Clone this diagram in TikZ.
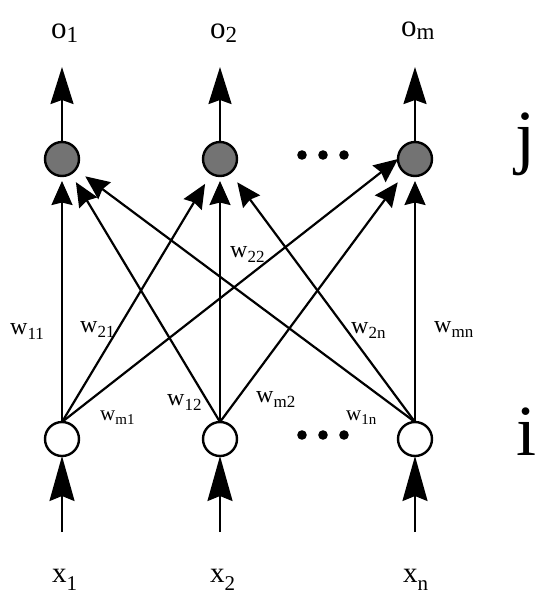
\documentclass[tikz,border=0pt]{standalone}
\usepackage{fontspec}
\setmainfont{Liberation Serif}
\usetikzlibrary{arrows.meta}
% \lowsub{size}{drop}{text}: a lowered subscript set in its own size
\newcommand\lowsub[3]{\raisebox{-#2}{\fontsize{#1}{#1}\selectfont #3}}

\begin{document}
\begin{tikzpicture}[x=1pt,y=-1pt,
  unit/.style={circle,draw,line width=2.4pt,minimum size=34pt,inner sep=0pt,outer sep=0pt},
  hidden/.style={unit,fill=black!55},
  inputunit/.style={unit,fill=white},
  wire/.style={line width=2.2pt},
  weight/.style={wire,-{Stealth[length=24pt,width=21pt,inset=2.5pt]}},
  outarrow/.style={wire,-{Stealth[length=37pt,width=23pt,inset=4pt]}},
  inarrow/.style={wire,-{Stealth[length=45pt,width=25pt,inset=5pt]}},
  wlab/.style={anchor=base west,inner sep=0pt,font=\fontsize{24}{24}\selectfont},
  wlabsmall/.style={anchor=base west,inner sep=0pt,font=\fontsize{21}{21}\selectfont},
  iolab/.style={anchor=base west,inner sep=0pt,font=\fontsize{31}{31}\selectfont},
  layerlab/.style={anchor=base,inner sep=0pt,font=\fontsize{72}{72}\selectfont},
]
\useasboundingbox (0,0) rectangle (538,595);

% output layer j
\node[hidden] (t1) at (62,159) {};
\node[hidden] (t2) at (220,159) {};
\node[hidden] (t3) at (415,159) {};

% input layer i
\node[inputunit] (b1) at (62,439) {};
\node[inputunit] (b2) at (220,439) {};
\node[inputunit] (b3) at (415,439) {};

% ellipses between the units
\foreach \dx in {302,323,344} {
  \fill (\dx,155) circle (4.8pt);
  \fill (\dx,435) circle (4.8pt);
}

% outputs
\coordinate (o1tip) at (62,67);
\coordinate (o2tip) at (220,67);
\coordinate (omtip) at (415,67);
\draw[outarrow] (t1) -- (o1tip);
\draw[outarrow] (t2) -- (o2tip);
\draw[outarrow] (t3) -- (omtip);
\node[iolab] (o1) at (51,38) {o\lowsub{23pt}{4pt}{1}};
\node[iolab] (o2) at (210,38) {o\lowsub{23pt}{4pt}{2}};
\node[iolab] (om) at (401,36) {o\lowsub{23pt}{3pt}{m}};

% inputs
\coordinate (x1foot) at (62,532);
\coordinate (x2foot) at (220,532);
\coordinate (xnfoot) at (415,532);
\draw[inarrow] (x1foot) -- (b1);
\draw[inarrow] (x2foot) -- (b2);
\draw[inarrow] (xnfoot) -- (b3);
\node[iolab,font=\fontsize{29}{29}\selectfont] (x1) at (52,582) {x\lowsub{21pt}{8pt}{1}};
\node[iolab,font=\fontsize{29}{29}\selectfont] (x2) at (210,582) {x\lowsub{21pt}{8pt}{2}};
\node[iolab,font=\fontsize{29}{29}\selectfont] (xn) at (403,582) {x\lowsub{21pt}{8pt}{n}};

% weighted connections
\draw[weight,shorten >=5pt] (b1.north) -- (t1);
\draw[weight,shorten >=12pt] (b1.north) -- (t2);
\draw[weight] (b1.north) -- (t3.west);
\draw[weight,shorten >=10pt] (b2.north) -- (t1);
\draw[weight,shorten >=5pt] (b2.north) -- (t2);
\draw[weight,shorten >=12pt] (b2.north) -- (t3);
\draw[weight,shorten >=12pt] (b3.north) -- (t1);
\draw[weight,shorten >=12pt] (b3.north) -- (t2);
\draw[weight,shorten >=5pt] (b3.north) -- (t3);

% weight labels
\node[wlab] (w11) at (10,334) {w\lowsub{17pt}{5pt}{11}};
\node[wlab] (w21) at (80,332) {w\lowsub{17pt}{5pt}{21}};
\node[wlab] (w22) at (230,257) {w\lowsub{17pt}{5pt}{22}};
\node[wlab] (w2n) at (351,333) {w\lowsub{17pt}{5pt}{2n}};
\node[wlab] (wmn) at (434,332) {w\lowsub{17pt}{5pt}{mn}};
\node[wlab] (w12) at (167,405) {w\lowsub{17pt}{5pt}{12}};
\node[wlab] (wm2) at (256,402) {w\lowsub{17pt}{5pt}{m2}};
\node[wlabsmall] (wm1) at (100,420) {w\lowsub{15pt}{4pt}{m1}};
\node[wlabsmall] (w1n) at (346,420) {w\lowsub{15pt}{4pt}{1n}};

% layer names
\node[layerlab] (jlab) at (525,160) {j};
\node[layerlab] (ilab) at (526,455) {i};
\end{tikzpicture}
\end{document}
